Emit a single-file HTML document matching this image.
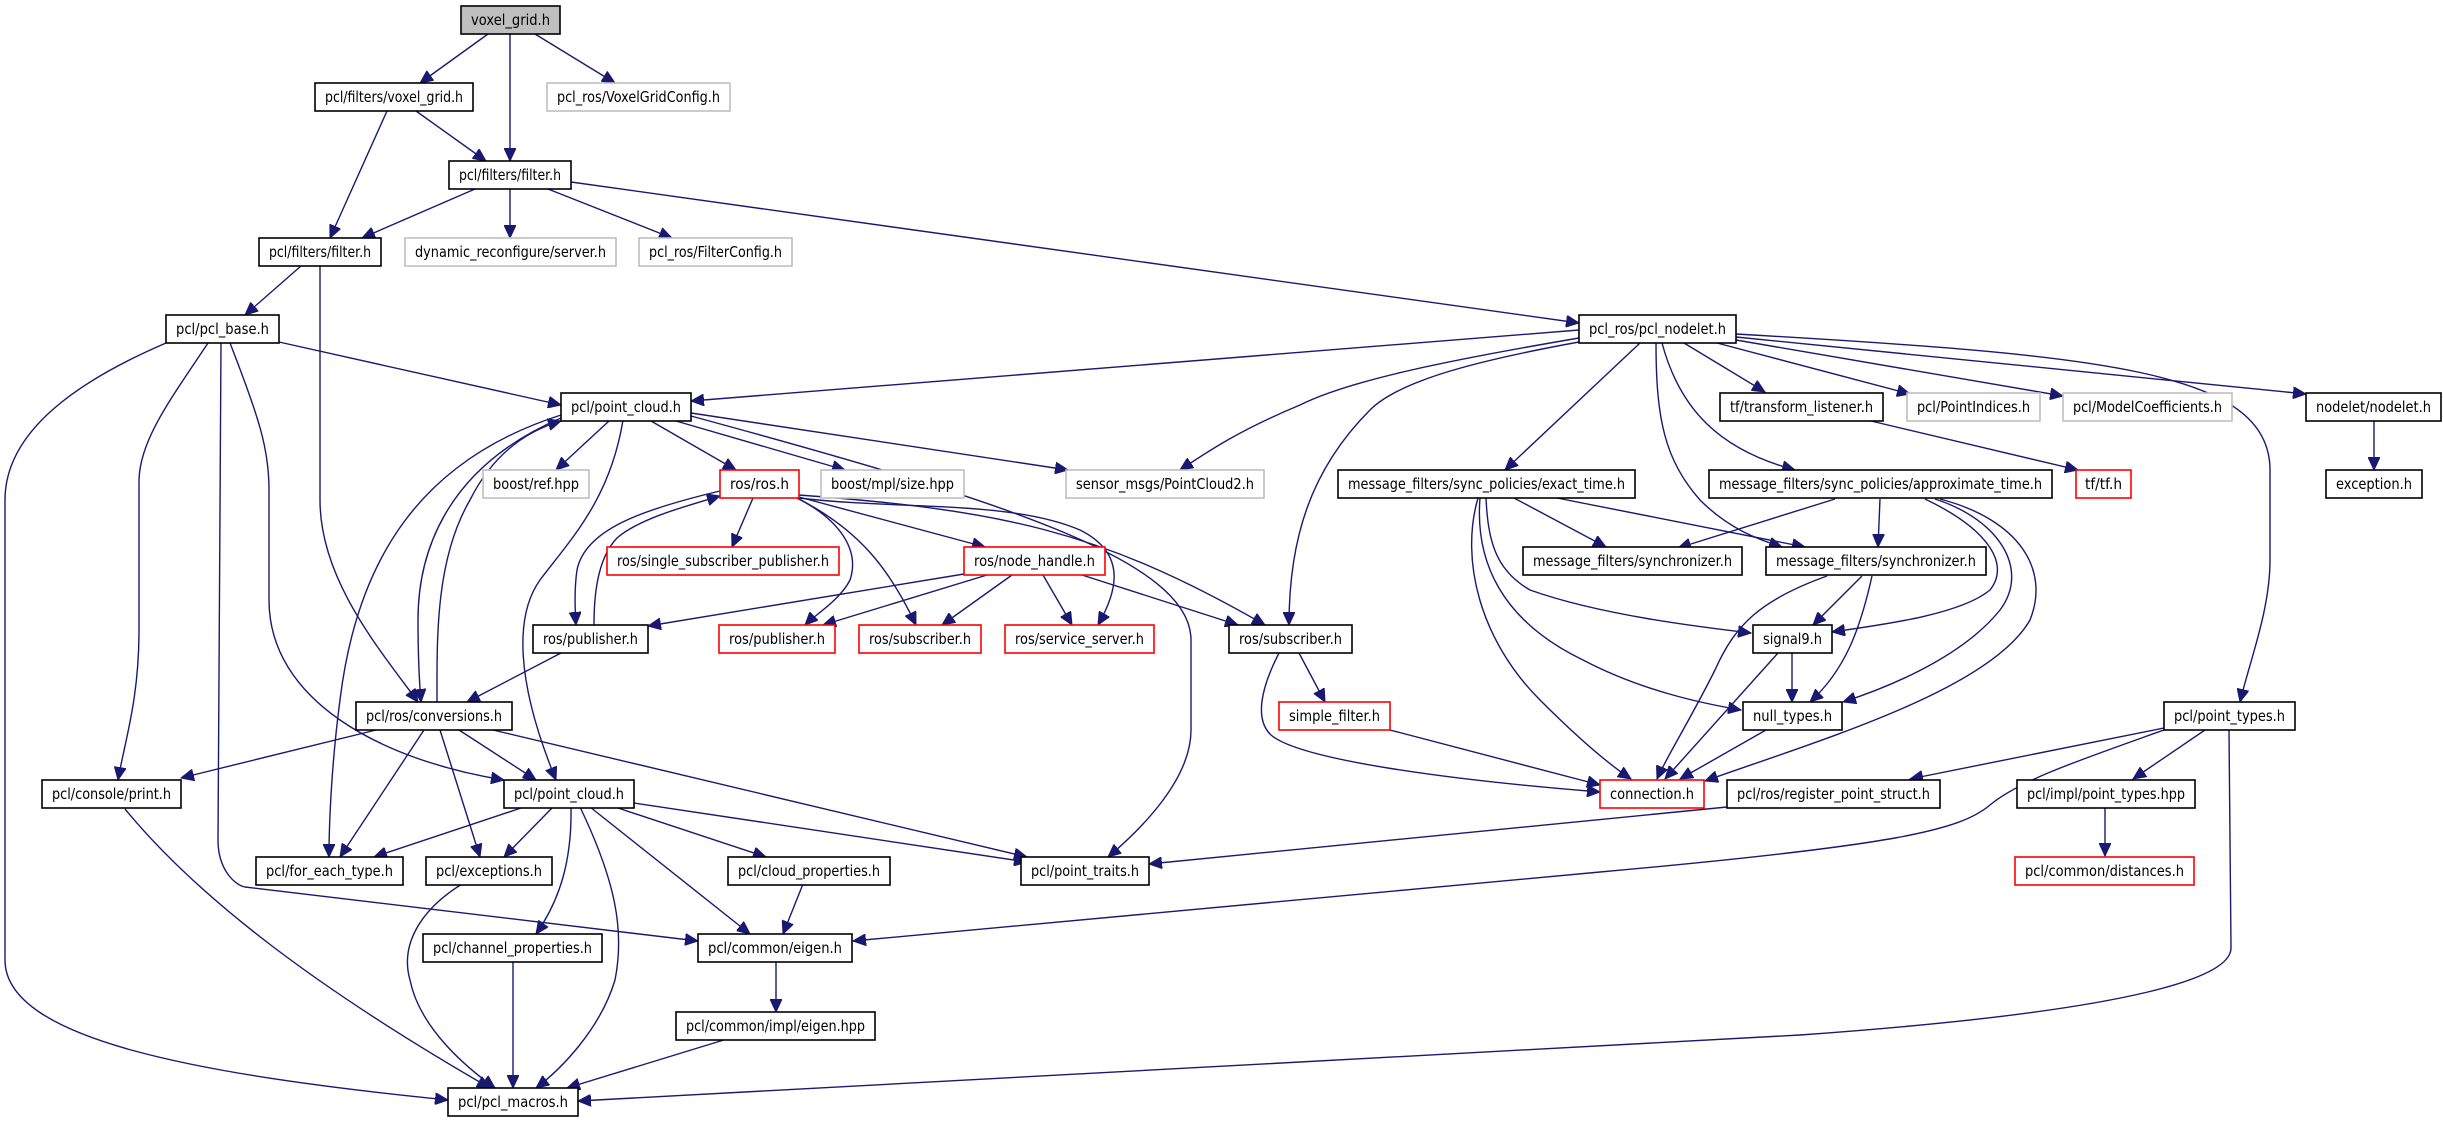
<!DOCTYPE html>
<html><head><meta charset="utf-8"><style>
html,body{margin:0;padding:0;background:#fff;}
svg{display:block;}
text{font-family:"DejaVu Sans","Liberation Sans",sans-serif;font-size:15px;fill:#000;}
.e{fill:none;stroke:#191970;stroke-width:1.4;marker-end:url(#a);}
.n{fill:#fff;stroke:#000;stroke-width:1.6;}
.g{fill:#fff;stroke:#bfbfbf;stroke-width:1.6;}
.r{fill:#fff;stroke:#ff0000;stroke-width:1.6;}
</style></head><body>
<svg width="2443" height="1123" viewBox="0 0 2443 1123" xmlns="http://www.w3.org/2000/svg">
<defs><marker id="a" markerUnits="userSpaceOnUse" markerWidth="14" markerHeight="12" refX="13" refY="6" orient="auto"><path d="M0,0 L13,6 L0,12 z" fill="#191970" stroke="#191970"/></marker></defs>
<g>
<path class="e" d="M488,34 L420,83"/>
<path class="e" d="M510,34 L510,161"/>
<path class="e" d="M535,34 L615,83"/>
<path class="e" d="M387,111 L330,238"/>
<path class="e" d="M416,111 L486,161"/>
<path class="e" d="M475,189 L362,238"/>
<path class="e" d="M510,189 L510,238"/>
<path class="e" d="M548,189 L672,238"/>
<path class="e" d="M571,182 L1579,323"/>
<path class="e" d="M301,266 L245,315"/>
<path class="e" d="M320,266 L320,500 C320,580 380,650 418,702"/>
<path class="e" d="M279,342 L561,405"/>
<path class="e" d="M208,343 C170,400 140,440 139,480 L139,630 C139,700 125,740 118,780"/>
<path class="e" d="M166,343 C80,380 5,430 5,500 L5,960 C5,1040 200,1075 448,1100"/>
<path class="e" d="M221,343 L218,840 C218,870 235,885 245,887 L698,941"/>
<path class="e" d="M230,343 C260,420 269,450 269,490 L269,600 C269,700 380,760 504,780"/>
<path class="e" d="M609,421 L556,470"/>
<path class="e" d="M651,421 L736,470"/>
<path class="e" d="M676,421 L845,470"/>
<path class="e" d="M691,413 L1068,470"/>
<path class="e" d="M691,416 C1000,500 1191,560 1191,640 L1191,730 C1191,780 1140,830 1108,857"/>
<path class="e" d="M561,415 C420,460 357,560 340,700 C332,760 329,820 329,857"/>
<path class="e" d="M561,418 C440,470 418,560 418,620 C418,660 420,690 421,702"/>
<path class="e" d="M437,702 C437,640 435,560 470,500 C495,450 530,430 561,421"/>
<path class="e" d="M623,420 C610,500 570,540 540,580 C515,615 515,680 556,780"/>
<path class="e" d="M753,498 L732,547"/>
<path class="e" d="M720,491 C640,510 585,530 577,570 C574,590 575,610 576,625"/>
<path class="e" d="M594,625 C594,600 596,560 617,538 C640,518 690,505 720,496"/>
<path class="e" d="M799,497 L985,547"/>
<path class="e" d="M797,498 C840,520 860,550 850,580 C840,600 815,615 805,625"/>
<path class="e" d="M797,498 C860,530 890,570 916,625"/>
<path class="e" d="M799,498 C900,510 1010,500 1080,530 C1130,555 1115,595 1098,625"/>
<path class="e" d="M799,495 C1000,510 1100,530 1265,625"/>
<path class="e" d="M964,574 L648,626"/>
<path class="e" d="M987,575 L823,625"/>
<path class="e" d="M1012,575 L942,625"/>
<path class="e" d="M1043,575 L1072,625"/>
<path class="e" d="M1082,575 L1238,625"/>
<path class="e" d="M561,653 L467,702"/>
<path class="e" d="M376,730 L181,778"/>
<path class="e" d="M424,730 L340,857"/>
<path class="e" d="M440,730 L480,857"/>
<path class="e" d="M459,730 L536,780"/>
<path class="e" d="M493,730 L1027,857"/>
<path class="e" d="M524,807 L374,857"/>
<path class="e" d="M553,807 L504,857"/>
<path class="e" d="M571,807 C572,860 560,900 536,934"/>
<path class="e" d="M580,807 C615,880 625,930 615,980 C600,1030 560,1070 536,1088"/>
<path class="e" d="M590,807 L750,934"/>
<path class="e" d="M615,807 L766,857"/>
<path class="e" d="M634,803 L1027,862"/>
<path class="e" d="M125,809 C200,900 320,990 490,1088"/>
<path class="e" d="M462,884 C420,910 400,945 410,980 C420,1030 470,1070 495,1088"/>
<path class="e" d="M513,961 L513,1088"/>
<path class="e" d="M803,884 L783,934"/>
<path class="e" d="M776,961 L776,1012"/>
<path class="e" d="M727,1039 L567,1088"/>
<path class="e" d="M1579,330 L691,401"/>
<path class="e" d="M1579,338 C1450,360 1350,380 1300,405 C1240,430 1210,450 1180,470"/>
<path class="e" d="M1579,342 C1480,360 1400,380 1370,410 C1310,470 1289,540 1289,625"/>
<path class="e" d="M1640,343 L1505,470"/>
<path class="e" d="M1656,343 C1656,420 1665,460 1700,500 C1730,530 1760,540 1782,547"/>
<path class="e" d="M1662,343 C1680,410 1720,450 1795,470"/>
<path class="e" d="M1684,343 L1765,392"/>
<path class="e" d="M1717,343 L1910,394"/>
<path class="e" d="M1736,340 L2063,396"/>
<path class="e" d="M1736,337 L2306,394"/>
<path class="e" d="M1736,334 C2100,355 2270,370 2270,470 L2270,560 C2270,610 2250,660 2240,702"/>
<path class="e" d="M1871,421 L2078,470"/>
<path class="e" d="M2374,421 L2374,470"/>
<path class="e" d="M1514,498 L1606,547"/>
<path class="e" d="M1557,498 L1805,547"/>
<path class="e" d="M1486,498 C1488,540 1495,570 1530,590 C1600,615 1700,627 1751,633"/>
<path class="e" d="M1480,498 C1475,560 1500,620 1583,660 C1640,690 1700,703 1741,710"/>
<path class="e" d="M1478,498 C1460,560 1480,640 1540,700 C1580,740 1610,765 1631,779"/>
<path class="e" d="M1835,499 L1678,548"/>
<path class="e" d="M1880,499 L1878,547"/>
<path class="e" d="M1925,499 C1990,530 2010,565 1990,590 C1960,615 1880,625 1832,632"/>
<path class="e" d="M1935,499 C2000,520 2030,570 2000,610 C1960,660 1880,690 1843,702"/>
<path class="e" d="M1940,499 C2020,520 2050,570 2030,620 C1990,690 1820,740 1705,781"/>
<path class="e" d="M1862,576 L1813,625"/>
<path class="e" d="M1872,576 C1860,630 1845,670 1810,702"/>
<path class="e" d="M1827,576 C1760,600 1735,625 1715,670 C1690,720 1665,760 1657,779"/>
<path class="e" d="M1792,653 L1792,702"/>
<path class="e" d="M1778,653 L1665,779"/>
<path class="e" d="M1766,730 L1680,779"/>
<path class="e" d="M1299,653 L1325,702"/>
<path class="e" d="M1279,653 C1260,690 1255,720 1271,735 C1300,760 1450,780 1600,792"/>
<path class="e" d="M1390,730 L1600,785"/>
<path class="e" d="M2164,728 L1910,779"/>
<path class="e" d="M2205,730 L2133,779"/>
<path class="e" d="M2164,730 C2080,760 2020,780 1990,805 C1960,830 1900,845 1600,872 L853,941"/>
<path class="e" d="M2229,730 L2231,948 C2231,975 2150,1010 1800,1035 L578,1101"/>
<path class="e" d="M1727,807 L1149,864"/>
<path class="e" d="M2105,807 L2105,856"/>
</g>
<g>
<rect x="461" y="6" width="99" height="28" fill="#bfbfbf" stroke="#000" stroke-width="1.6"/><text x="510.5" y="25" text-anchor="middle" textLength="79" lengthAdjust="spacingAndGlyphs">voxel_grid.h</text>
<rect class="n" x="315" y="83" width="158" height="28"/><text x="394" y="102" text-anchor="middle" textLength="138" lengthAdjust="spacingAndGlyphs">pcl/filters/voxel_grid.h</text>
<rect class="g" x="547" y="83" width="183" height="28"/><text x="638.5" y="102" text-anchor="middle" textLength="163" lengthAdjust="spacingAndGlyphs">pcl_ros/VoxelGridConfig.h</text>
<rect class="n" x="449" y="161" width="122" height="28"/><text x="510" y="180" text-anchor="middle" textLength="102" lengthAdjust="spacingAndGlyphs">pcl/filters/filter.h</text>
<rect class="n" x="259" y="238" width="122" height="28"/><text x="320" y="257" text-anchor="middle" textLength="102" lengthAdjust="spacingAndGlyphs">pcl/filters/filter.h</text>
<rect class="g" x="405" y="238" width="211" height="28"/><text x="510.5" y="257" text-anchor="middle" textLength="191" lengthAdjust="spacingAndGlyphs">dynamic_reconfigure/server.h</text>
<rect class="g" x="639" y="238" width="153" height="28"/><text x="715.5" y="257" text-anchor="middle" textLength="133" lengthAdjust="spacingAndGlyphs">pcl_ros/FilterConfig.h</text>
<rect class="n" x="166" y="315" width="113" height="28"/><text x="222.5" y="334" text-anchor="middle" textLength="93" lengthAdjust="spacingAndGlyphs">pcl/pcl_base.h</text>
<rect class="n" x="1579" y="315" width="157" height="28"/><text x="1657.5" y="334" text-anchor="middle" textLength="137" lengthAdjust="spacingAndGlyphs">pcl_ros/pcl_nodelet.h</text>
<rect class="n" x="561" y="393" width="130" height="28"/><text x="626" y="412" text-anchor="middle" textLength="110" lengthAdjust="spacingAndGlyphs">pcl/point_cloud.h</text>
<rect class="n" x="1720" y="393" width="163" height="28"/><text x="1801.5" y="412" text-anchor="middle" textLength="143" lengthAdjust="spacingAndGlyphs">tf/transform_listener.h</text>
<rect class="g" x="1907" y="393" width="133" height="28"/><text x="1973.5" y="412" text-anchor="middle" textLength="113" lengthAdjust="spacingAndGlyphs">pcl/PointIndices.h</text>
<rect class="g" x="2063" y="393" width="169" height="28"/><text x="2147.5" y="412" text-anchor="middle" textLength="149" lengthAdjust="spacingAndGlyphs">pcl/ModelCoefficients.h</text>
<rect class="n" x="2306" y="393" width="135" height="28"/><text x="2373.5" y="412" text-anchor="middle" textLength="115" lengthAdjust="spacingAndGlyphs">nodelet/nodelet.h</text>
<rect class="g" x="483" y="470" width="106" height="28"/><text x="536" y="489" text-anchor="middle" textLength="86" lengthAdjust="spacingAndGlyphs">boost/ref.hpp</text>
<rect class="r" x="720" y="470" width="79" height="28"/><text x="759.5" y="489" text-anchor="middle" textLength="59" lengthAdjust="spacingAndGlyphs">ros/ros.h</text>
<rect class="g" x="821" y="470" width="143" height="28"/><text x="892.5" y="489" text-anchor="middle" textLength="123" lengthAdjust="spacingAndGlyphs">boost/mpl/size.hpp</text>
<rect class="g" x="1066" y="470" width="198" height="28"/><text x="1165" y="489" text-anchor="middle" textLength="178" lengthAdjust="spacingAndGlyphs">sensor_msgs/PointCloud2.h</text>
<rect class="n" x="1338" y="470" width="297" height="28"/><text x="1486.5" y="489" text-anchor="middle" textLength="277" lengthAdjust="spacingAndGlyphs">message_filters/sync_policies/exact_time.h</text>
<rect class="n" x="1709" y="470" width="343" height="28"/><text x="1880.5" y="489" text-anchor="middle" textLength="323" lengthAdjust="spacingAndGlyphs">message_filters/sync_policies/approximate_time.h</text>
<rect class="r" x="2076" y="470" width="55" height="28"/><text x="2103.5" y="489" text-anchor="middle" textLength="37" lengthAdjust="spacingAndGlyphs">tf/tf.h</text>
<rect class="n" x="2326" y="470" width="96" height="28"/><text x="2374" y="489" text-anchor="middle" textLength="76" lengthAdjust="spacingAndGlyphs">exception.h</text>
<rect class="r" x="607" y="547" width="232" height="28"/><text x="723" y="566" text-anchor="middle" textLength="212" lengthAdjust="spacingAndGlyphs">ros/single_subscriber_publisher.h</text>
<rect class="r" x="964" y="547" width="141" height="28"/><text x="1034.5" y="566" text-anchor="middle" textLength="121" lengthAdjust="spacingAndGlyphs">ros/node_handle.h</text>
<rect class="n" x="1523" y="547" width="219" height="28"/><text x="1632.5" y="566" text-anchor="middle" textLength="199" lengthAdjust="spacingAndGlyphs">message_filters/synchronizer.h</text>
<rect class="n" x="1766" y="547" width="220" height="28"/><text x="1876" y="566" text-anchor="middle" textLength="200" lengthAdjust="spacingAndGlyphs">message_filters/synchronizer.h</text>
<rect class="n" x="533" y="625" width="115" height="28"/><text x="590.5" y="644" text-anchor="middle" textLength="95" lengthAdjust="spacingAndGlyphs">ros/publisher.h</text>
<rect class="r" x="719" y="625" width="116" height="28"/><text x="777" y="644" text-anchor="middle" textLength="96" lengthAdjust="spacingAndGlyphs">ros/publisher.h</text>
<rect class="r" x="859" y="625" width="122" height="28"/><text x="920" y="644" text-anchor="middle" textLength="102" lengthAdjust="spacingAndGlyphs">ros/subscriber.h</text>
<rect class="r" x="1005" y="625" width="149" height="28"/><text x="1079.5" y="644" text-anchor="middle" textLength="129" lengthAdjust="spacingAndGlyphs">ros/service_server.h</text>
<rect class="n" x="1229" y="625" width="123" height="28"/><text x="1290.5" y="644" text-anchor="middle" textLength="103" lengthAdjust="spacingAndGlyphs">ros/subscriber.h</text>
<rect class="n" x="1753" y="625" width="79" height="28"/><text x="1792.5" y="644" text-anchor="middle" textLength="59" lengthAdjust="spacingAndGlyphs">signal9.h</text>
<rect class="n" x="356" y="702" width="156" height="28"/><text x="434" y="721" text-anchor="middle" textLength="136" lengthAdjust="spacingAndGlyphs">pcl/ros/conversions.h</text>
<rect class="r" x="1279" y="702" width="111" height="28"/><text x="1334.5" y="721" text-anchor="middle" textLength="91" lengthAdjust="spacingAndGlyphs">simple_filter.h</text>
<rect class="n" x="1743" y="702" width="99" height="28"/><text x="1792.5" y="721" text-anchor="middle" textLength="79" lengthAdjust="spacingAndGlyphs">null_types.h</text>
<rect class="n" x="2164" y="702" width="131" height="28"/><text x="2229.5" y="721" text-anchor="middle" textLength="111" lengthAdjust="spacingAndGlyphs">pcl/point_types.h</text>
<rect class="n" x="42" y="780" width="139" height="28"/><text x="111.5" y="799" text-anchor="middle" textLength="119" lengthAdjust="spacingAndGlyphs">pcl/console/print.h</text>
<rect class="n" x="504" y="780" width="130" height="28"/><text x="569" y="799" text-anchor="middle" textLength="110" lengthAdjust="spacingAndGlyphs">pcl/point_cloud.h</text>
<rect class="r" x="1600" y="780" width="104" height="28"/><text x="1652" y="799" text-anchor="middle" textLength="84" lengthAdjust="spacingAndGlyphs">connection.h</text>
<rect class="n" x="1727" y="780" width="213" height="28"/><text x="1833.5" y="799" text-anchor="middle" textLength="193" lengthAdjust="spacingAndGlyphs">pcl/ros/register_point_struct.h</text>
<rect class="n" x="2017" y="780" width="178" height="28"/><text x="2106" y="799" text-anchor="middle" textLength="158" lengthAdjust="spacingAndGlyphs">pcl/impl/point_types.hpp</text>
<rect class="n" x="256" y="857" width="147" height="28"/><text x="329.5" y="876" text-anchor="middle" textLength="127" lengthAdjust="spacingAndGlyphs">pcl/for_each_type.h</text>
<rect class="n" x="426" y="857" width="126" height="28"/><text x="489" y="876" text-anchor="middle" textLength="106" lengthAdjust="spacingAndGlyphs">pcl/exceptions.h</text>
<rect class="n" x="728" y="857" width="162" height="28"/><text x="809" y="876" text-anchor="middle" textLength="142" lengthAdjust="spacingAndGlyphs">pcl/cloud_properties.h</text>
<rect class="n" x="1021" y="857" width="128" height="28"/><text x="1085" y="876" text-anchor="middle" textLength="108" lengthAdjust="spacingAndGlyphs">pcl/point_traits.h</text>
<rect class="r" x="2015" y="857" width="179" height="28"/><text x="2104.5" y="876" text-anchor="middle" textLength="159" lengthAdjust="spacingAndGlyphs">pcl/common/distances.h</text>
<rect class="n" x="423" y="934" width="179" height="28"/><text x="512.5" y="953" text-anchor="middle" textLength="159" lengthAdjust="spacingAndGlyphs">pcl/channel_properties.h</text>
<rect class="n" x="698" y="934" width="154" height="28"/><text x="775" y="953" text-anchor="middle" textLength="134" lengthAdjust="spacingAndGlyphs">pcl/common/eigen.h</text>
<rect class="n" x="676" y="1012" width="199" height="28"/><text x="775.5" y="1031" text-anchor="middle" textLength="179" lengthAdjust="spacingAndGlyphs">pcl/common/impl/eigen.hpp</text>
<rect class="n" x="448" y="1088" width="130" height="28"/><text x="513" y="1107" text-anchor="middle" textLength="110" lengthAdjust="spacingAndGlyphs">pcl/pcl_macros.h</text>
</g>
</svg>
</body></html>
